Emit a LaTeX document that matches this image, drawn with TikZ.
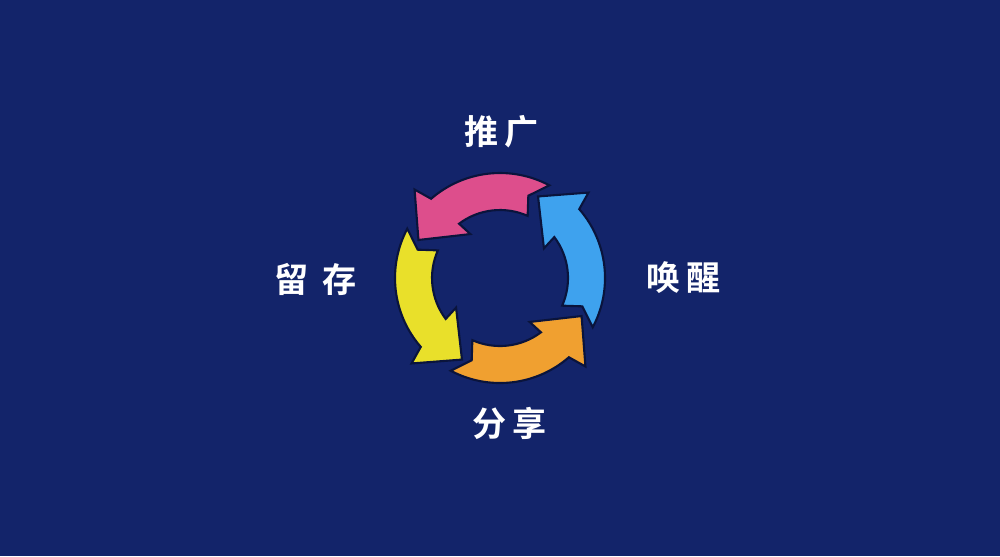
\documentclass[tikz,border=0pt]{standalone}
\usepackage{fontspec}
\usepackage{xcolor}
\usepackage{tikz}
\newfontfamily\cjk{Noto Sans CJK SC}[BoldFont={Noto Sans CJK SC Bold}]
\definecolor{navybg}{RGB}{19,36,106}
\definecolor{arrowpink}{RGB}{221,78,140}
\definecolor{arrowyellow}{RGB}{233,224,42}
\definecolor{arroworange}{RGB}{240,160,48}
\definecolor{arrowblue}{RGB}{62,162,238}
\definecolor{rim}{RGB}{10,20,60}

\begin{document}
\begin{tikzpicture}[stagename/.style={text=white, inner sep=0pt, font=\cjk\bfseries\fontsize{9.7}{11}\selectfont}]
			\fill[navybg] (0,0) rectangle (10,5.56);
			\coordinate (c) at (5,2.78);
			
			\filldraw[fill=arrowpink, draw=rim, line width=0.6pt, shift={(c)}] (62:1.05) arc[start angle=62, end angle=131, radius=1.05] -- (134:1.23) -- (155:0.90) -- (124:0.53) -- (127:0.68) arc[start angle=127, end angle=66, radius=0.68] -- (71:0.87) -- cycle;
			\filldraw[fill=arrowyellow, draw=rim, line width=0.6pt, shift={(c)}, rotate=90] (62:1.05) arc[start angle=62, end angle=131, radius=1.05] -- (134:1.23) -- (155:0.90) -- (124:0.53) -- (127:0.68) arc[start angle=127, end angle=66, radius=0.68] -- (71:0.87) -- cycle;
			\filldraw[fill=arroworange, draw=rim, line width=0.6pt, shift={(c)}, rotate=180] (62:1.05) arc[start angle=62, end angle=131, radius=1.05] -- (134:1.23) -- (155:0.90) -- (124:0.53) -- (127:0.68) arc[start angle=127, end angle=66, radius=0.68] -- (71:0.87) -- cycle;
			\filldraw[fill=arrowblue, draw=rim, line width=0.6pt, shift={(c)}, rotate=270] (62:1.05) arc[start angle=62, end angle=131, radius=1.05] -- (134:1.23) -- (155:0.90) -- (124:0.53) -- (127:0.68) arc[start angle=127, end angle=66, radius=0.68] -- (71:0.87) -- cycle;
			
			\node[stagename] (tuiguang) at (5.02,4.24) {推\hspace{0.06cm}广};
			\node[stagename] (liucun) at (3.16,2.77) {留\hspace{0.14cm}存};
			\node[stagename] (huanxing) at (6.84,2.78) {唤\hspace{0.06cm}醒};
			\node[stagename] (fenxiang) at (5.10,1.33) {分\hspace{0.06cm}享};
			
			%	\draw[thick] (c) circle (0.68);
			
\end{tikzpicture}
\end{document}
